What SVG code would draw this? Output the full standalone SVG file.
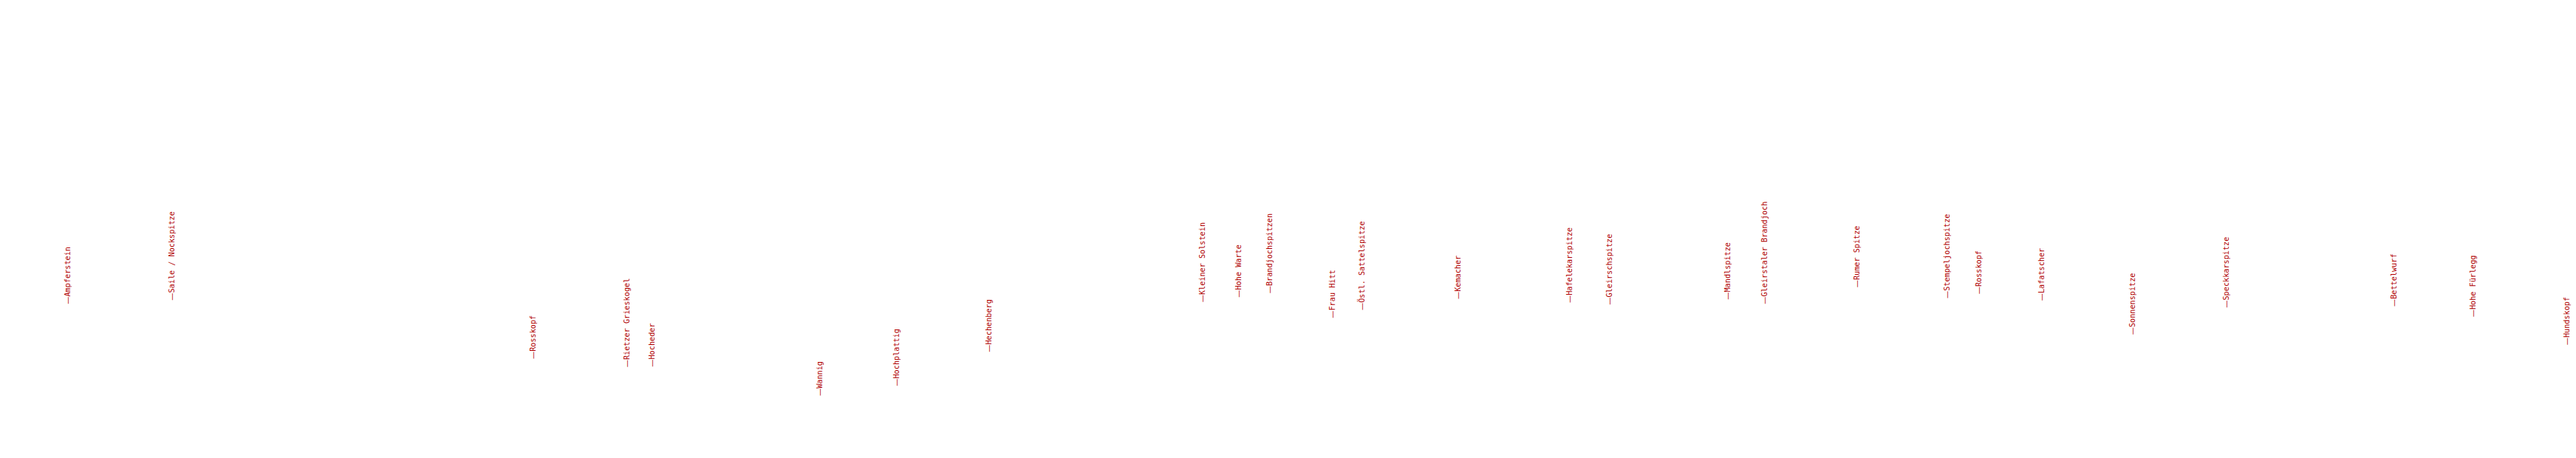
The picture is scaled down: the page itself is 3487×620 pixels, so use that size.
<svg xmlns="http://www.w3.org/2000/svg" width="3487" height="620" viewBox="0 0 3487 620">
<style>
text{font-family:"DejaVu Sans Mono","Liberation Mono",monospace;font-size:10.2px;fill:#b00000}
.d{font-family:"DejaVu Sans",sans-serif}
</style>
<rect width="3487" height="620" fill="#ffffff"/>
<g id="peaks">
<g id="p1"><text transform="translate(95.2,411.7) rotate(-90)"><tspan class="d">—</tspan>Ampferstein</text></g>
<g id="p2"><text transform="translate(236.2,406.7) rotate(-90)"><tspan class="d">—</tspan>Saile / Nockspitze</text></g>
<g id="p3"><text transform="translate(725.2,486) rotate(-90)"><tspan class="d">—</tspan>Rosskopf</text></g>
<g id="p4"><text transform="translate(851.8,497.3) rotate(-90)"><tspan class="d">—</tspan>Rietzer Grieskogel</text></g>
<g id="p5"><text transform="translate(885.8,496.7) rotate(-90)"><tspan class="d">—</tspan>Hocheder</text></g>
<g id="p6"><text transform="translate(1112.8,536) rotate(-90)"><tspan class="d">—</tspan>Wannig</text></g>
<g id="p7"><text transform="translate(1216.8,522.7) rotate(-90)"><tspan class="d">—</tspan>Hochplattig</text></g>
<g id="p8"><text transform="translate(1341.8,476.7) rotate(-90)"><tspan class="d">—</tspan>Hechenberg</text></g>
<g id="p9"><text transform="translate(1630.8,409.3) rotate(-90)"><tspan class="d">—</tspan>Kleiner Solstein</text></g>
<g id="p10"><text transform="translate(1679.5,402.7) rotate(-90)"><tspan class="d">—</tspan>Hohe Warte</text></g>
<g id="p11"><text transform="translate(1721.8,397.3) rotate(-90)"><tspan class="d">—</tspan>Brandjochspitzen</text></g>
<g id="p12"><text transform="translate(1806.8,430.7) rotate(-90)"><tspan class="d">—</tspan>Frau Hitt</text></g>
<g id="p13"><text transform="translate(1846.8,420) rotate(-90)"><tspan class="d">—</tspan>Östl. Sattelspitze</text></g>
<g id="p14"><text transform="translate(1976.8,405) rotate(-90)"><tspan class="d">—</tspan>Kemacher</text></g>
<g id="p15"><text transform="translate(2127.8,410) rotate(-90)"><tspan class="d">—</tspan>Hafelekarspitze</text></g>
<g id="p16"><text transform="translate(2181.8,412.7) rotate(-90)"><tspan class="d">—</tspan>Gleirschspitze</text></g>
<g id="p17"><text transform="translate(2341.8,405.7) rotate(-90)"><tspan class="d">—</tspan>Mandlspitze</text></g>
<g id="p18"><text transform="translate(2391.8,411.7) rotate(-90)"><tspan class="d">—</tspan>Gleirstaler Brandjoch</text></g>
<g id="p19"><text transform="translate(2516.8,389.3) rotate(-90)"><tspan class="d">—</tspan>Rumer Spitze</text></g>
<g id="p20"><text transform="translate(2638.5,404) rotate(-90)"><tspan class="d">—</tspan>Stempeljochspitze</text></g>
<g id="p21"><text transform="translate(2681.8,398.3) rotate(-90)"><tspan class="d">—</tspan>Rosskopf</text></g>
<g id="p22"><text transform="translate(2766.8,407.3) rotate(-90)"><tspan class="d">—</tspan>Lafatscher</text></g>
<g id="p23"><text transform="translate(2889.5,453.3) rotate(-90)"><tspan class="d">—</tspan>Sonnenspitze</text></g>
<g id="p24"><text transform="translate(3016.8,416.7) rotate(-90)"><tspan class="d">—</tspan>Speckkarspitze</text></g>
<g id="p25"><text transform="translate(3243.5,415) rotate(-90)"><tspan class="d">—</tspan>Bettelwurf</text></g>
<g id="p26"><text transform="translate(3350.8,429.3) rotate(-90)"><tspan class="d">—</tspan>Hohe Fürlegg</text></g>
<g id="p27"><text transform="translate(3477.8,467.3) rotate(-90)"><tspan class="d">—</tspan>Hundskopf</text></g>
</g>
</svg>
